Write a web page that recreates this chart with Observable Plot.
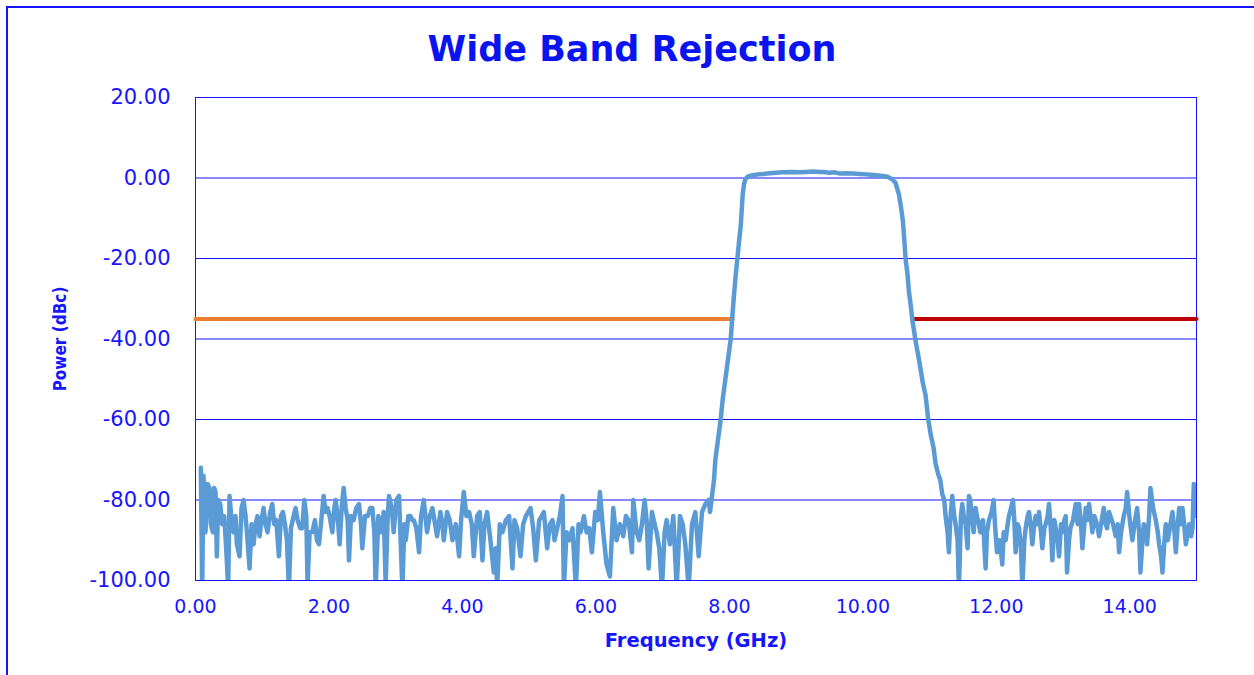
<!DOCTYPE html>
<html>
<head>
<meta charset="utf-8">
<script src="https://cdn.jsdelivr.net/npm/d3@7"></script>
<script src="https://cdn.jsdelivr.net/npm/@observablehq/plot@0.6"></script>
<style>
  html, body { margin: 0; padding: 0; background: #fff; overflow: hidden; }
  #page { position: relative; width: 1254px; height: 675px; overflow: hidden; }
  #border { position: absolute; left: 6px; top: 6px; width: 1400px; height: 800px; border: 2px solid #1515ff; box-sizing: border-box; }
  #title { position: absolute; left: 0; top: 0; width: 1264px; height: 80px; text-align: center; line-height: 98px;
           font-family: "DejaVu Sans", sans-serif; font-weight: bold; font-size: 35px; color: #0a14f0; }
  #chart { position: absolute; left: 0; top: 80px; }
</style>
</head>
<body>
<div id="page">
  <div id="border"></div>
  <div id="title">Wide Band Rejection</div>
  <div id="chart"></div>
</div>
<script>
// Measured response: [frequency GHz, power dBc]
const response = [
  [0.08,-72],[0.10,-102],[0.12,-74],[0.15,-88],[0.18,-76],[0.21,-77],[0.23,-86],[0.26,-88],[0.28,-77],[0.30,-78],
  [0.32,-94],[0.34,-80],[0.37,-81],[0.40,-86],[0.43,-84],[0.46,-92],[0.49,-102],[0.51,-79],[0.54,-85],[0.57,-88],
  [0.60,-84],[0.62,-91],[0.66,-94],[0.69,-82],[0.72,-80],[0.75,-84],[0.78,-90],[0.81,-97],[0.84,-86],[0.87,-91],
  [0.90,-86],[0.93,-84],[0.96,-89],[0.99,-85],[1.02,-82],[1.05,-86],[1.08,-88],[1.12,-83],[1.15,-81],[1.18,-86],
  [1.21,-85],[1.25,-94],[1.28,-84],[1.31,-83],[1.34,-86],[1.37,-90],[1.40,-102],[1.43,-87],[1.47,-84],[1.50,-82],
  [1.53,-85],[1.57,-87],[1.60,-87],[1.63,-80],[1.66,-84],[1.68,-101],[1.71,-88],[1.75,-88],[1.79,-85],[1.82,-90],
  [1.85,-91],[1.88,-86],[1.92,-79],[1.95,-83],[1.98,-82],[2.01,-84],[2.05,-88],[2.08,-82],[2.10,-80],[2.13,-84],
  [2.16,-91],[2.19,-82],[2.22,-77],[2.25,-82],[2.28,-85],[2.30,-95],[2.33,-84],[2.37,-85],[2.41,-82],[2.45,-81],
  [2.48,-86],[2.50,-92],[2.54,-84],[2.58,-84],[2.62,-82],[2.65,-82],[2.68,-88],[2.70,-102],[2.74,-84],[2.78,-88],
  [2.82,-83],[2.85,-101],[2.88,-84],[2.90,-79],[2.94,-82],[2.97,-88],[3.01,-80],[3.05,-79],[3.10,-102],[3.13,-86],
  [3.15,-90],[3.19,-84],[3.22,-84],[3.25,-85],[3.27,-85],[3.31,-87],[3.35,-93],[3.38,-84],[3.42,-80],[3.47,-88],
  [3.51,-84],[3.55,-82],[3.59,-86],[3.62,-89],[3.67,-83],[3.70,-86],[3.72,-90],[3.77,-83],[3.81,-85],[3.85,-90],
  [3.90,-86],[3.95,-94],[3.98,-85],[4.02,-78],[4.06,-84],[4.10,-83],[4.14,-86],[4.17,-94],[4.22,-84],[4.26,-83],
  [4.30,-95],[4.33,-86],[4.37,-83],[4.42,-90],[4.47,-98],[4.50,-92],[4.52,-102],[4.56,-86],[4.60,-88],[4.65,-85],
  [4.70,-84],[4.75,-97],[4.78,-85],[4.82,-87],[4.87,-94],[4.91,-86],[4.95,-84],[5.02,-82],[5.06,-87],[5.10,-95],
  [5.15,-85],[5.19,-84],[5.22,-83],[5.27,-92],[5.31,-86],[5.35,-85],[5.38,-90],[5.42,-87],[5.46,-84],[5.50,-79],
  [5.52,-102],[5.56,-88],[5.60,-90],[5.65,-87],[5.70,-102],[5.74,-86],[5.77,-88],[5.82,-84],[5.86,-88],[5.90,-87],
  [5.94,-93],[5.99,-83],[6.03,-85],[6.06,-78],[6.11,-88],[6.16,-96],[6.21,-99],[6.26,-82],[6.31,-90],[6.36,-86],
  [6.41,-89],[6.45,-84],[6.49,-85],[6.54,-93],[6.56,-80],[6.61,-88],[6.65,-90],[6.69,-86],[6.73,-80],[6.76,-85],
  [6.79,-97],[6.84,-83],[6.88,-86],[6.91,-88],[6.95,-92],[6.99,-102],[7.03,-88],[7.06,-85],[7.11,-91],[7.16,-84],
  [7.21,-102],[7.26,-84],[7.30,-86],[7.34,-91],[7.39,-102],[7.44,-86],[7.49,-83],[7.54,-94],[7.59,-83],[7.64,-81],
  [7.69,-80],[7.71,-83],[7.74,-79],[7.77,-75],[7.79,-70],[7.83,-65],[7.87,-60],[7.90,-55],[7.94,-50],[7.98,-45],
  [8.02,-40],[8.06,-31],[8.09,-25],[8.12,-20],[8.15,-15],[8.17,-12],[8.20,-4],[8.22,-1.5],[8.24,-0.3],[8.28,0.4],
  [8.35,0.7],[8.43,0.9],[8.51,1.0],[8.60,1.2],[8.70,1.3],[8.80,1.4],[8.92,1.5],[9.05,1.4],[9.15,1.5],[9.25,1.6],
  [9.35,1.5],[9.41,1.5],[9.50,1.3],[9.58,1.4],[9.66,1.1],[9.75,1.2],[9.85,1.1],[9.95,1.0],[10.05,0.9],[10.12,0.8],
  [10.20,0.7],[10.30,0.5],[10.37,0.3],[10.44,-0.3],[10.49,-1.2],[10.54,-4],[10.57,-7],[10.60,-10.7],[10.62,-15],[10.64,-20],
  [10.67,-24],[10.69,-28],[10.72,-32],[10.74,-35],[10.79,-40.5],[10.83,-44],[10.86,-47],[10.90,-51],[10.94,-54],[10.98,-60],
  [11.02,-64],[11.06,-67],[11.09,-71],[11.13,-73.6],[11.16,-75],[11.19,-78.5],[11.22,-80],[11.24,-84],[11.27,-88],[11.29,-93],
  [11.31,-85],[11.34,-79],[11.37,-84],[11.39,-86],[11.42,-90],[11.44,-102],[11.47,-84],[11.49,-81],[11.52,-85],[11.54,-86],
  [11.57,-92],[11.59,-79],[11.61,-80],[11.64,-85],[11.66,-88],[11.69,-82],[11.71,-84],[11.74,-86],[11.76,-88],[11.80,-85],
  [11.84,-97],[11.86,-88],[11.89,-85],[11.93,-83],[11.96,-80],[11.98,-86],[12.01,-93],[12.05,-90],[12.09,-96],[12.11,-88],
  [12.14,-90],[12.17,-86],[12.19,-84],[12.22,-82],[12.25,-80],[12.27,-85],[12.29,-93],[12.32,-86],[12.34,-87],[12.37,-92],
  [12.39,-102],[12.42,-90],[12.44,-87],[12.47,-84],[12.49,-83],[12.52,-87],[12.54,-91],[12.57,-86],[12.59,-84],[12.62,-86],
  [12.64,-83],[12.67,-88],[12.69,-92],[12.72,-87],[12.74,-86],[12.77,-84],[12.79,-81],[12.82,-88],[12.84,-95],[12.87,-85],
  [12.89,-87],[12.92,-90],[12.94,-94],[12.97,-86],[12.99,-88],[13.02,-85],[13.04,-84],[13.06,-98],[13.09,-90],[13.11,-87],
  [13.15,-85],[13.19,-81],[13.22,-86],[13.24,-81],[13.27,-86],[13.29,-92],[13.32,-86],[13.34,-82],[13.37,-85],[13.39,-81],
  [13.42,-85],[13.44,-88],[13.47,-84],[13.49,-85],[13.52,-87],[13.54,-89],[13.58,-85],[13.61,-82],[13.64,-86],[13.66,-87],
  [13.69,-83],[13.71,-84],[13.75,-86],[13.79,-89],[13.82,-86],[13.84,-93],[13.87,-88],[13.91,-84],[13.94,-82],[13.96,-78],
  [14.00,-85],[14.04,-90],[14.07,-86],[14.11,-82],[14.14,-88],[14.16,-98],[14.19,-90],[14.21,-86],[14.24,-88],[14.26,-91],
  [14.29,-84],[14.31,-77],[14.35,-82],[14.39,-85],[14.42,-88],[14.44,-91],[14.47,-94],[14.49,-98],[14.52,-90],[14.54,-86],
  [14.57,-90],[14.59,-88],[14.62,-85],[14.64,-83],[14.67,-88],[14.69,-93],[14.72,-86],[14.74,-82],[14.77,-86],[14.79,-82],
  [14.82,-87],[14.84,-91],[14.87,-88],[14.89,-86],[14.92,-89],[14.94,-87],[14.96,-76],[14.98,-79],[15.00,-84]
];

// Rejection limits (dBc) and their frequency spans (GHz)
const lowerLimit = [[0, -35], [8.05, -35]];
const upperLimit = [[10.76, -35], [15, -35]];

const xTicks = [0, 2, 4, 6, 8, 10, 12, 14];
const yTicks = [-100, -80, -60, -40, -20, 0, 20];

const blue = "#1515ff";
const chart = Plot.plot({
  width: 1254,
  height: 595,
  marginLeft: 195,
  marginRight: 58,
  marginTop: 17,
  marginBottom: 95,
  style: { fontFamily: "'DejaVu Sans', sans-serif", color: blue, background: "transparent" },
  x: { domain: [0, 15], label: null },
  y: { domain: [-100, 20], label: null },
  marks: [
    Plot.gridY(yTicks, { stroke: blue, strokeOpacity: 1, strokeWidth: 1 }),
    Plot.frame({ stroke: blue, strokeWidth: 1 }),
    Plot.axisY(yTicks, { tickSize: 0, tickPadding: 25, fontSize: 21, fill: blue, tickFormat: d => d.toFixed(2) }),
    Plot.axisX(xTicks, { tickSize: 0, tickPadding: 19, fontSize: 19, fill: blue, tickFormat: d => d.toFixed(2) }),
    Plot.line(lowerLimit, { x: d => d[0], y: d => d[1], stroke: "#ed7d31", strokeWidth: 4 }),
    Plot.line(upperLimit, { x: d => d[0], y: d => d[1], stroke: "#c00000", strokeWidth: 4 }),
    Plot.line(response, { x: d => d[0], y: d => d[1], stroke: "#5b9bd5", strokeWidth: 4.5, strokeLinejoin: "round", clip: true }),
    Plot.text(["Frequency (GHz)"], { frameAnchor: "bottom", dy: 60, lineAnchor: "middle", textAnchor: "middle", fontSize: 19.5, fontWeight: "bold", fill: blue }),
    Plot.text(["Power (dBc)"], { frameAnchor: "left", dx: -135, textAnchor: "middle", lineAnchor: "middle", rotate: -90, fontSize: 17, fontWeight: "bold", fill: blue, fontFamily: "'DejaVu Sans Condensed', 'DejaVu Sans', sans-serif" })
  ]
});
document.getElementById("chart").appendChild(chart);
</script>
</body>
</html>
